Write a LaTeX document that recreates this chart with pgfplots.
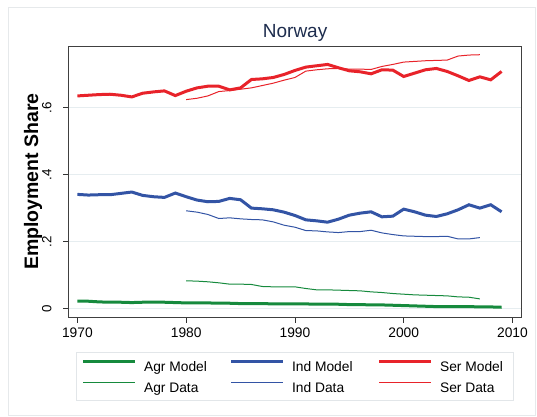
\documentclass[border=0pt]{standalone}
\usepackage{fontspec}
\setmainfont{Liberation Sans}
\usepackage{pgfplots}
\pgfplotsset{compat=1.18}
\definecolor{agr}{HTML}{168A3D}
\definecolor{ind}{HTML}{3354A5}
\definecolor{ser}{HTML}{E8232A}
\definecolor{titlec}{HTML}{1E2D4E}
\definecolor{gridc}{HTML}{E6EDF0}
\definecolor{framec}{HTML}{E6E9EB}
\definecolor{legc}{HTML}{E2E6E9}

\pgfplotstableread{
year val
1970 .635
1971 .637
1972 .639
1973 .640
1974 .637
1975 .632
1976 .643
1977 .647
1978 .650
1979 .636
1980 .649
1981 .659
1982 .664
1983 .664
1984 .653
1985 .659
1986 .684
1987 .686
1988 .690
1989 .699
1990 .711
1991 .721
1992 .725
1993 .729
1994 .719
1995 .710
1996 .707
1997 .701
1998 .713
1999 .712
2000 .693
2001 .703
2002 .713
2003 .717
2004 .708
2005 .695
2006 .681
2007 .692
2008 .683
2009 .708
}\sermodel

\pgfplotstableread{
year val
1980 .624
1981 .628
1982 .635
1983 .648
1984 .651
1985 .655
1986 .659
1987 .666
1988 .673
1989 .682
1990 .690
1991 .709
1992 .713
1993 .716
1994 .717
1995 .715
1996 .715
1997 .714
1998 .723
1999 .729
2000 .736
2001 .738
2002 .740
2003 .741
2004 .742
2005 .754
2006 .757
2007 .758
}\serdata

\pgfplotstableread{
year val
1970 .341
1971 .339
1972 .340
1973 .340
1974 .344
1975 .348
1976 .338
1977 .334
1978 .332
1979 .345
1980 .334
1981 .324
1982 .319
1983 .320
1984 .329
1985 .325
1986 .300
1987 .298
1988 .295
1989 .288
1990 .278
1991 .265
1992 .262
1993 .258
1994 .267
1995 .279
1996 .285
1997 .289
1998 .274
1999 .276
2000 .297
2001 .289
2002 .279
2003 .275
2004 .283
2005 .295
2006 .310
2007 .300
2008 .310
2009 .289
}\indmodel

\pgfplotstableread{
year val
1980 .292
1981 .288
1982 .281
1983 .269
1984 .271
1985 .268
1986 .266
1987 .265
1988 .259
1989 .249
1990 .243
1991 .233
1992 .232
1993 .229
1994 .227
1995 .230
1996 .230
1997 .234
1998 .226
1999 .221
2000 .217
2001 .216
2002 .215
2003 .215
2004 .216
2005 .208
2006 .208
2007 .212
}\inddata

\pgfplotstableread{
year val
1970 .022
1971 .022
1972 .020
1973 .019
1974 .019
1975 .018
1976 .019
1977 .019
1978 .019
1979 .018
1980 .017
1981 .017
1982 .017
1983 .016
1984 .016
1985 .015
1986 .015
1987 .015
1988 .014
1989 .014
1990 .014
1991 .014
1992 .013
1993 .013
1994 .013
1995 .012
1996 .012
1997 .011
1998 .011
1999 .010
2000 .009
2001 .008
2002 .007
2003 .006
2004 .006
2005 .006
2006 .006
2007 .005
2008 .005
2009 .004
}\agrmodel

\pgfplotstableread{
year val
1980 .083
1981 .082
1982 .080
1983 .077
1984 .073
1985 .073
1986 .072
1987 .066
1988 .065
1989 .065
1990 .065
1991 .060
1992 .056
1993 .056
1994 .055
1995 .054
1996 .053
1997 .050
1998 .048
1999 .045
2000 .043
2001 .041
2002 .040
2003 .039
2004 .038
2005 .035
2006 .034
2007 .029
}\agrdata

\begin{document}
\begin{tikzpicture}
\path[use as bounding box] (-68.5pt,-98.7pt) rectangle (468.5pt,317.3pt);
\draw[framec, line width=0.8pt] (-60.5pt,-97.7pt) rectangle (466.5pt,310.3pt);
\begin{axis}[
  at={(0pt,0pt)}, anchor=south west,
  scale only axis, width=453.2pt, height=271.3pt,
  xmin=1969.18, xmax=2010.85, ymin=-0.026, ymax=0.784,
  xtick={1970,1980,1990,2000,2010},
  xticklabels={1970,1980,1990,2000,2010},
  ytick={0,0.2,0.4,0.6},
  yticklabels={0,.2,.4,.6},
  xtick pos=bottom, ytick pos=left,
  tick align=outside, major tick length=5.5pt,
  tick style={black!80, line width=0.8pt},
  ymajorgrids, grid style={gridc, line width=1pt},
  axis line style={black!75, line width=1pt},
  xticklabel style={font=\fontsize{13.8}{16}\selectfont},
  yticklabel style={font=\fontsize{13.3}{16}\selectfont, rotate=90, anchor=south},
  yticklabel shift=8pt,
  xticklabel shift=2pt,
  title={Norway},
  title style={font=\fontsize{19}{22}\selectfont, color=titlec, at={(axis description cs:0.5,1)}, anchor=base, yshift=2.5pt},
  ylabel={Employment Share},
  ylabel style={font=\fontsize{19.5}{22}\selectfont\bfseries, at={(axis description cs:-0.0783,0.5)}, anchor=center},
  legend columns=3,
  legend style={at={(axis description cs:0.5,-0.129)}, anchor=north,
    draw=legc, line width=0.8pt, fill=white,
    font=\fontsize{13.8}{16}\selectfont,
    inner xsep=4.7pt, inner ysep=4pt,
    nodes={inner sep=0pt, text height=14pt, text depth=4pt},
    row sep=1.6pt, column sep=0pt},
  legend image code/.code={\path[draw=none, fill=none] (0pt,0pt) rectangle (61pt,10pt); \draw[#1] (0pt,5pt) -- (52pt,5pt);},
]
\addplot[agr, line width=3pt] table[x=year,y=val] {\agrmodel};
\addplot[ind, line width=3pt] table[x=year,y=val] {\indmodel};
\addplot[ser, line width=3pt] table[x=year,y=val] {\sermodel};
\addplot[agr, line width=1pt] table[x=year,y=val] {\agrdata};
\addplot[ind, line width=1pt] table[x=year,y=val] {\inddata};
\addplot[ser, line width=1pt] table[x=year,y=val] {\serdata};
\legend{\makebox[85.5pt][l]{Agr Model},\makebox[85.5pt][l]{Ind Model},\makebox[68.6pt][l]{Ser Model},\makebox[85.5pt][l]{Agr Data},\makebox[85.5pt][l]{Ind Data},\makebox[68.6pt][l]{Ser Data}}
\end{axis}
\end{tikzpicture}
\end{document}
